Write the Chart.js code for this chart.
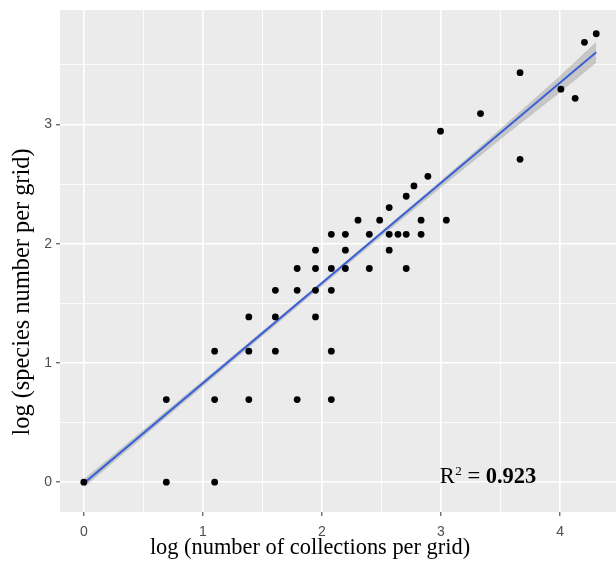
<!DOCTYPE html>
<html>
<head>
<meta charset="utf-8">
<script src="https://cdn.jsdelivr.net/npm/chart.js@4/dist/chart.umd.min.js"></script>
<style>
  html, body { margin: 0; padding: 0; background: #ffffff; overflow: hidden; }
  #wrap { width: 616px; height: 562px; position: relative; }
  canvas { display: block; }
</style>
</head>
<body>
<div id="wrap"><canvas id="c" width="616" height="562"></canvas></div>
<script>
// ---- data (natural log values) ----
const pointX = [0, 0.693, 1.099,
  0.693, 1.099, 1.386, 1.792, 2.079,
  1.099, 1.386, 1.609, 2.079,
  1.386, 1.609, 1.946,
  1.609, 1.792, 1.946, 2.079,
  1.792, 1.946, 2.079, 2.197, 2.398, 2.708,
  1.946, 2.197, 2.565,
  2.079, 2.197, 2.398, 2.565, 2.639, 2.708, 2.833,
  2.303, 2.485, 2.833, 3.045,
  2.565, 2.708, 2.773, 2.890,
  2.996, 3.332, 3.664, 3.664, 4.007, 4.127, 4.205, 4.304];
const pointY = [0, 0, 0,
  0.693, 0.693, 0.693, 0.693, 0.693,
  1.099, 1.099, 1.099, 1.099,
  1.386, 1.386, 1.386,
  1.609, 1.609, 1.609, 1.609,
  1.792, 1.792, 1.792, 1.792, 1.792, 1.792,
  1.946, 1.946, 1.946,
  2.079, 2.079, 2.079, 2.079, 2.079, 2.079, 2.079,
  2.197, 2.197, 2.197, 2.197,
  2.303, 2.398, 2.485, 2.565,
  2.944, 3.091, 2.708, 3.434, 3.296, 3.219, 3.689, 3.761];

const fitX = [0, 4.304];
const fitY = [-0.01, 3.605];

const bandX     = [0, 0.5, 1, 1.5, 2, 2.5, 3, 3.5, 4, 4.304];
const bandLower = [-0.045, 0.379, 0.802, 1.224, 1.644, 2.060, 2.471, 2.875, 3.268, 3.517];
const bandUpper = [0.025, 0.439, 0.852, 1.268, 1.684, 2.105, 2.531, 2.965, 3.408, 3.693];

const xTicks = [0, 1, 2, 3, 4];
const yTicks = [0, 1, 2, 3];
const xGrid = [0, 0.5, 1, 1.5, 2, 2.5, 3, 3.5, 4];
const yGrid = [0, 0.5, 1, 1.5, 2, 2.5, 3, 3.5];

const xTitle = 'log (number of collections per grid)';
const yTitle = 'log (species number per grid)';
const rLabel = 'R';
const rSup = '2';
const rValue = '0.923';
const annotX = 2.99, annotY = -0.01;

// ---- build ----
const zip = (xs, ys) => xs.map((x, i) => ({ x: x, y: ys[i] }));
const isMajor = v => Math.abs(v - Math.round(v)) < 1e-6;

const panelBg = {
  id: 'panelBg',
  beforeDraw(chart) {
    const a = chart.chartArea, ctx = chart.ctx;
    ctx.save();
    ctx.fillStyle = '#EBEBEB';
    ctx.fillRect(a.left, a.top, a.right - a.left, a.bottom - a.top);
    ctx.restore();
  }
};

const texts = {
  id: 'texts',
  afterDraw(chart) {
    const ctx = chart.ctx;
    ctx.save();
    ctx.fillStyle = '#000000';
    ctx.textBaseline = 'alphabetic';
    // x title
    ctx.font = '22.4px "Liberation Serif", "Times New Roman", serif';
    ctx.textAlign = 'center';
    ctx.fillText(xTitle, 310, 554);
    // y title
    ctx.save();
    ctx.font = '24.4px "Liberation Serif", "Times New Roman", serif';
    ctx.translate(29, 292);
    ctx.rotate(-Math.PI / 2);
    ctx.fillText(yTitle, 0, 0);
    ctx.restore();
    // R^2 annotation
    const px = chart.scales.x.getPixelForValue(annotX);
    const py = chart.scales.y.getPixelForValue(annotY);
    ctx.textAlign = 'left';
    ctx.font = '22.5px "Liberation Serif", serif';
    ctx.fillText(rLabel, px, py);
    let w = ctx.measureText(rLabel).width;
    ctx.font = '13px "Liberation Serif", serif';
    ctx.fillText(rSup, px + w + 0.5, py - 8);
    w += ctx.measureText(rSup).width + 0.5;
    ctx.font = '22.5px "Liberation Serif", serif';
    ctx.fillText(' = ', px + w, py);
    w += ctx.measureText(' = ').width;
    ctx.font = 'bold 22.5px "Liberation Serif", serif';
    ctx.fillText(rValue, px + w, py);
    ctx.restore();
  }
};

new Chart(document.getElementById('c'), {
  type: 'scatter',
  data: {
    datasets: [
      { label: 'lower', data: zip(bandX, bandLower), showLine: true, pointRadius: 0, pointHoverRadius: 0,
        borderWidth: 0, borderColor: 'rgba(0,0,0,0)', fill: false, tension: 0.3, order: 3 },
      { label: 'upper', data: zip(bandX, bandUpper), showLine: true, pointRadius: 0, pointHoverRadius: 0,
        borderWidth: 0, borderColor: 'rgba(0,0,0,0)', fill: '-1',
        backgroundColor: 'rgba(153,153,153,0.45)', tension: 0.3, order: 2 },
      { label: 'fit', data: zip(fitX, fitY), showLine: true, pointRadius: 0, pointHoverRadius: 0,
        borderColor: '#3A62D6', borderWidth: 2, fill: false, order: 1 },
      { label: 'points', data: zip(pointX, pointY), pointRadius: 3.4,
        pointBackgroundColor: '#000000', pointBorderWidth: 0, borderColor: '#000000', order: 0 }
    ]
  },
  options: {
    responsive: false,
    animation: false,
    devicePixelRatio: 1,
    layout: { autoPadding: false, padding: { top: 10, right: 0, left: 0, bottom: 0 } },
    plugins: { legend: { display: false }, tooltip: { enabled: false } },
    scales: {
      x: {
        type: 'linear', min: -0.2, max: 4.47,
        afterBuildTicks: s => { s.ticks = xGrid.map(v => ({ value: v })); },
        afterFit: s => { s.height = 50; s.paddingLeft = 0; s.paddingRight = 0; },
        border: { display: false },
        grid: {
          color: '#FFFFFF',
          lineWidth: c => isMajor(c.tick.value) ? 1.6 : 0.8,
          tickColor: c => isMajor(c.tick.value) ? '#333333' : 'rgba(0,0,0,0)',
          tickLength: 4,
          tickWidth: 1
        },
        ticks: {
          autoSkip: false, maxRotation: 0, padding: 8,
          color: '#4D4D4D',
          font: { family: '"Liberation Sans", Arial, sans-serif', size: 14 },
          callback: v => xTicks.includes(v) ? String(v) : ''
        }
      },
      y: {
        type: 'linear', min: -0.25, max: 3.96,
        afterBuildTicks: s => { s.ticks = yGrid.map(v => ({ value: v })); },
        afterFit: s => { s.width = 60; s.paddingTop = 0; s.paddingBottom = 0; },
        border: { display: false },
        grid: {
          color: '#FFFFFF',
          lineWidth: c => isMajor(c.tick.value) ? 1.6 : 0.8,
          tickColor: c => isMajor(c.tick.value) ? '#333333' : 'rgba(0,0,0,0)',
          tickLength: 4,
          tickWidth: 1
        },
        ticks: {
          autoSkip: false, padding: 4,
          color: '#4D4D4D',
          font: { family: '"Liberation Sans", Arial, sans-serif', size: 14 },
          callback: v => yTicks.includes(v) ? String(v) : ''
        }
      }
    }
  },
  plugins: [panelBg, texts]
});
</script>
</body>
</html>
